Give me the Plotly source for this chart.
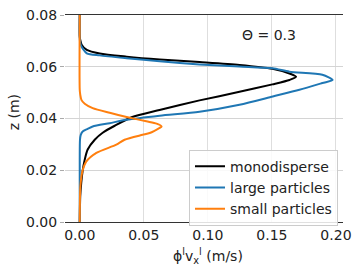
import plotly.graph_objects as go

# monodisperse
mono_z = [0.000, 0.010, 0.0152, 0.0199, 0.0241, 0.0280, 0.0318, 0.0345, 0.0372, 0.0405,
          0.0433, 0.0470, 0.0503, 0.0532, 0.0549, 0.0561, 0.0574, 0.0592, 0.0607, 0.0618,
          0.0628, 0.0639, 0.0651, 0.0665, 0.0684, 0.0704, 0.0719, 0.0800]
mono_x = [0.0000, 0.0004, 0.0012, 0.0023, 0.0039, 0.0062, 0.0117, 0.0179, 0.0273, 0.0405,
          0.0623, 0.0935, 0.1247, 0.1504, 0.1637, 0.1689, 0.1637, 0.1504, 0.1247, 0.0935,
          0.0624, 0.0366, 0.0156, 0.0055, 0.0016, 0.0004, 0.0000, 0.0000]

# large particles
large_z = [0.000, 0.0241, 0.0318, 0.0337, 0.0350, 0.0360, 0.0369, 0.0382, 0.0395, 0.0411,
           0.0426, 0.0453, 0.0485, 0.0511, 0.0537, 0.0549, 0.0569, 0.0581, 0.0594, 0.0601,
           0.0609, 0.0621, 0.0633, 0.0644, 0.0652, 0.0684, 0.0711, 0.0800]
large_x = [0.0000, 0.0000, 0.0002, 0.0008, 0.0023, 0.0062, 0.0101, 0.0234, 0.0364, 0.0624,
           0.0935, 0.1247, 0.1507, 0.1715, 0.1894, 0.1974, 0.1894, 0.1637, 0.1504, 0.1247,
           0.0935, 0.0624, 0.0366, 0.0156, 0.0055, 0.0008, 0.0000, 0.0000]

# small particles
small_z = [0.000, 0.0138, 0.0196, 0.0234, 0.0267, 0.0299, 0.0318, 0.0337, 0.0344, 0.0364,
           0.0369, 0.0380, 0.0389, 0.0406, 0.0422, 0.0440, 0.0457, 0.0472, 0.0492, 0.0511, 0.0800]
small_x = [0.0000, 0.0005, 0.0021, 0.0052, 0.0130, 0.0286, 0.0350, 0.0491, 0.0546, 0.0624,
           0.0639, 0.0600, 0.0520, 0.0366, 0.0234, 0.0101, 0.0039, 0.0013, 0.0004, 0.0000, 0.0000]

x_ticks = [0, 0.05, 0.10, 0.15, 0.20]
x_tick_labels = ["0.00", "0.05", "0.10", "0.15", "0.20"]
y_ticks = [0, 0.02, 0.04, 0.06, 0.08]
y_tick_labels = ["0.00", "0.02", "0.04", "0.06", "0.08"]

series = [
    ("monodisperse", mono_x, mono_z, "#000000"),
    ("large particles", large_x, large_z, "#1f77b4"),
    ("small particles", small_x, small_z, "#ff7f0e"),
]

FONT = "DejaVu Sans"

fig = go.Figure()
for name, xs, zs, col in series:
    fig.add_trace(go.Scatter(x=xs, y=zs, mode="lines", name=name,
                             line=dict(color=col, width=2, shape="spline", smoothing=0.7)))

fig.update_layout(
    width=355, height=268,
    margin=dict(l=65, r=12, t=15, b=45.5, autoexpand=False),
    paper_bgcolor="white", plot_bgcolor="white",
    font=dict(family=FONT, size=14, color="#222"),
    showlegend=True,
    legend=dict(x=0.982, y=0.349, xanchor="right", yanchor="top",
                bgcolor="rgba(255,255,255,0.85)", bordercolor="#cccccc", borderwidth=1,
                font=dict(size=14, family=FONT, color="#222"), itemwidth=30,
                tracegroupgap=0),
    xaxis=dict(range=[-0.0115, 0.2055], tickvals=x_ticks, ticktext=x_tick_labels,
               showgrid=True, gridcolor="#dedede", gridwidth=1, zeroline=False,
               showline=True, linecolor="#333333", linewidth=1.3, mirror=True,
               ticks="", automargin=False,
               tickfont=dict(size=14, family=FONT, color="#222")),
    yaxis=dict(range=[0, 0.08], tickvals=y_ticks, ticktext=y_tick_labels,
               showgrid=True, gridcolor="#d4d4d4", gridwidth=1, zeroline=False,
               showline=False, ticks="outside", ticklen=4, tickcolor="#aaaaaa",
               automargin=False,
               tickfont=dict(size=14, family=FONT, color="#222")),
    annotations=[
        dict(x=0.148, y=0.0723, xref="x", yref="y", text="Θ = 0.3", showarrow=False,
             font=dict(size=14, family=FONT, color="#222"), xanchor="center", yanchor="middle"),
        dict(x=0.514, y=-0.166, xref="paper", yref="paper",
             text="ϕ<sup>l</sup>v<sub>x</sub><sup>l</sup> (m/s)", showarrow=False,
             font=dict(size=14, family=FONT, color="#222"), xanchor="center", yanchor="middle"),
        dict(x=-0.185, y=0.528, xref="paper", yref="paper", text="z (m)", textangle=-90,
             showarrow=False, font=dict(size=14, family=FONT, color="#222"),
             xanchor="center", yanchor="middle"),
    ],
)

# remove the browser's default 8px body margin so the figure sits at the page origin
fig.write_html("out.html", config={"displayModeBar": False},
               post_script="document.body.style.margin='0px';document.body.style.overflow='hidden';")
